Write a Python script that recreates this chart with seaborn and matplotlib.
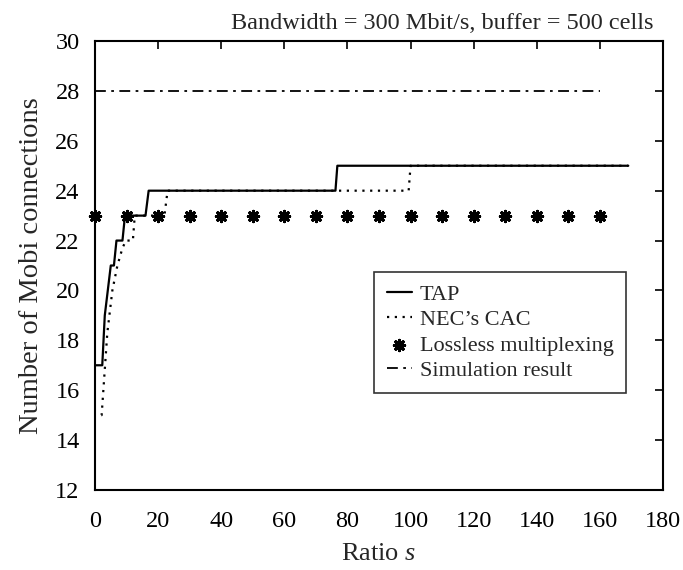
import matplotlib
matplotlib.use("Agg")
import matplotlib.pyplot as plt
import seaborn as sns
import pandas as pd

# TAP curve (ratio s, connections)
tap_x = [0, 2.3, 3.1, 5.0, 6.0, 6.8, 8.7, 9.5, 16.0, 17.0, 76.2, 76.8, 169]
tap_y = [17, 17, 19, 21, 21, 22, 22, 23, 23, 24, 24, 25, 25]

# NEC's CAC curve
nec_x = [2.0, 2.1, 3.9, 5.5, 7.1, 8.7, 9.8, 12.0, 12.6, 22.0, 23.0, 99.4, 100.0, 169]
nec_y = [15, 15, 18.3, 20.0, 21.0, 21.7, 22, 22, 23, 23, 24, 24, 25, 25]

# Lossless multiplexing
loss_x = [0, 10, 20, 30, 40, 50, 60, 70, 80, 90, 100, 110, 120, 130, 140, 150, 160]
loss_y = [23] * len(loss_x)

# Simulation result
sim_x = [0, 160]
sim_y = [28, 28]

xticks = [0, 20, 40, 60, 80, 100, 120, 140, 160, 180]
yticks = [12, 14, 16, 18, 20, 22, 24, 26, 28, 30]

sns.set_theme(style="white")
plt.rcParams['font.family'] = ['Liberation Serif', 'DejaVu Serif']
plt.rcParams['mathtext.fontset'] = 'custom'
plt.rcParams['mathtext.it'] = 'Liberation Serif:italic'
plt.rcParams['mathtext.rm'] = 'Liberation Serif'

fig = plt.figure(figsize=(6.83, 5.70), dpi=100)
ax = fig.add_axes([0.1391, 0.1404, 0.8316, 0.7876])

sns.lineplot(x=tap_x, y=tap_y, ax=ax, color='black', lw=1.6, sort=False,
             estimator=None, label='TAP')
sns.lineplot(x=nec_x, y=nec_y, ax=ax, color='black', lw=1.6, sort=False,
             estimator=None, label="NEC\u2019s CAC", linestyle=(0, (1, 2.5)))
sns.scatterplot(x=loss_x, y=loss_y, ax=ax, color='black', marker=(8, 2, 0),
                s=55, linewidth=2.2, label='Lossless multiplexing', zorder=5,
                clip_on=False)
sns.lineplot(x=sim_x, y=sim_y, ax=ax, color='black', lw=1.3, sort=False,
             estimator=None, label='Simulation result',
             linestyle=(0, (6, 3, 1.5, 3)))

ax.set_xlim(0, 180)
ax.set_ylim(12, 30)
ax.set_xticks(xticks)
ax.set_yticks(yticks)
ax.tick_params(direction='in', length=6, width=1.2, top=True, right=True,
               labelsize=17.5, colors='black')
ax.tick_params(axis='x', pad=15)
ax.tick_params(axis='y', pad=11)
ax.set_xticklabels([str(t) for t in xticks])
for s in ax.spines.values():
    s.set_color('black')
    s.set_linewidth(1.5)
ax.set_xlabel('Ratio $\\mathit{s}$', fontsize=19, labelpad=8)
ax.set_ylabel('Number of Mobi connections', fontsize=20.5, labelpad=8)
ax.set_title('Bandwidth = 300 Mbit/s, buffer = 500 cells', fontsize=17.5,
             x=0.611, pad=9)

leg = ax.legend(loc='upper left', bbox_to_anchor=(0.492, 0.4855), fontsize=16,
                frameon=True, fancybox=False, handlelength=1.15, handletextpad=0.35,
                borderpad=0.55, labelspacing=0.22, borderaxespad=0)
leg.get_frame().set_edgecolor('black')
leg.get_frame().set_linewidth(1.2)

fig.savefig('out.png', dpi=100)
